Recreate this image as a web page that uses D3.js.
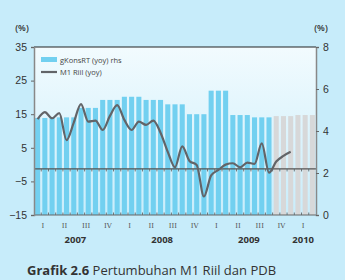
<!DOCTYPE html>
<html>
<head>
<meta charset="utf-8">
<script src="https://cdn.jsdelivr.net/npm/d3@7"></script>
<style>
  body { margin: 0; background: #c7ecfa; }
  svg { display: block; font-family: "Open Sans", "Noto Sans", sans-serif; }
</style>
</head>
<body>
<div id="chart"></div>
<script>
// monthly household consumption growth (rhs), Jan 2007 .. Mar 2010
const konsRT = [
  4.62, 4.62, 4.62, 4.65, 4.65, 4.65, 5.10, 5.10, 5.10, 5.48, 5.48, 5.48,
  5.63, 5.63, 5.63, 5.48, 5.48, 5.48, 5.27, 5.27, 5.27, 4.80, 4.80, 4.80,
  5.92, 5.92, 5.92, 4.76, 4.76, 4.76, 4.65, 4.65, 4.65, 4.71, 4.71, 4.71,
  4.76, 4.76, 4.76
];
// first projected month (grey bars)
const projStart = 33;

// M1 Riil (yoy), Jan 2007 .. Dec 2009
const m1Riil = [
  13.5, 15.6, 13.8, 15.3, 7.3, 12.5, 18.0, 12.8, 13.1, 10.3, 14.5, 17.7,
  13.3, 10.3, 12.8, 11.8, 13.1, 9.5, 3.8, -0.8, 5.4, 1.1, -0.1, -9.5,
  -3.2, -1.6, 0.0, 0.4, -0.8, 0.6, 0.2, 6.3, -2.4, 0.9, 2.6, 3.8
];

const quarterLabels = ["I", "II", "III", "IV", "I", "II", "III", "IV", "I", "II", "III", "IV", "I"];
const years = ["2007", "2008", "2009", "2010"];
const leftTicks = [35, 25, 15, 5, -5, -15];
const rightTicks = [8, 6, 4, 2, 0];
const baseLine = -1.3;

const W = 345, H = 280;
const margin = { top: 47, right: 29, bottom: 65, left: 34 };

const svg = d3.select("#chart").append("svg")
  .attr("width", W)
  .attr("height", H);

const defs = svg.append("defs");
const grad = defs.append("linearGradient")
  .attr("id", "bg")
  .attr("x1", 0).attr("y1", 0).attr("x2", 0).attr("y2", 1);
grad.append("stop").attr("offset", "0%").attr("stop-color", "#f2fbfe");
grad.append("stop").attr("offset", "100%").attr("stop-color", "#c9edfb");

const x = d3.scaleBand()
  .domain(d3.range(konsRT.length))
  .range([margin.left, W - margin.right])
  .paddingInner(0.3)
  .paddingOuter(0.15);

const yL = d3.scaleLinear().domain([-15, 35]).range([H - margin.bottom, margin.top]);
const yR = d3.scaleLinear().domain([0, 8]).range([H - margin.bottom, margin.top]);

// plot background
svg.append("rect")
  .attr("x", margin.left)
  .attr("y", margin.top)
  .attr("width", W - margin.left - margin.right)
  .attr("height", H - margin.top - margin.bottom)
  .attr("fill", "url(#bg)");

// bars
svg.append("g")
  .selectAll("rect")
  .data(konsRT)
  .join("rect")
  .attr("x", (d, i) => x(i))
  .attr("y", d => yR(d))
  .attr("width", x.bandwidth())
  .attr("height", d => yR(0) - yR(d))
  .attr("fill", (d, i) => i >= projStart ? "#d7d8d9" : "#72d0f0");

// month ticks along the middle line and bottom
const step = x.step();
const boundaries = d3.range(konsRT.length + 1).map(i => margin.left + x.paddingOuter() * step - x.paddingInner() * step / 2 + i * step);

svg.append("line")
  .attr("x1", margin.left).attr("x2", W - margin.right)
  .attr("y1", yL(baseLine)).attr("y2", yL(baseLine))
  .attr("stroke", "#555").attr("stroke-width", 1.3);

svg.append("g")
  .selectAll("line")
  .data(boundaries.slice(1, -1))
  .join("line")
  .attr("x1", d => d).attr("x2", d => d)
  .attr("y1", yL(baseLine)).attr("y2", yL(baseLine) + 2.5)
  .attr("stroke", "#555").attr("stroke-width", 0.8);

svg.append("g")
  .selectAll("line")
  .data(boundaries.slice(1, -1))
  .join("line")
  .attr("x1", d => d).attr("x2", d => d)
  .attr("y1", yL(-15)).attr("y2", yL(-15) - 2.5)
  .attr("stroke", "#555").attr("stroke-width", 0.8);

// M1 line
svg.append("path")
  .datum(m1Riil)
  .attr("fill", "none")
  .attr("stroke", "#626468")
  .attr("stroke-width", 2.2)
  .attr("stroke-linejoin", "round")
  .attr("d", d3.line()
    .x((d, i) => x(i) + x.bandwidth() / 2)
    .y(d => yL(d))
    .curve(d3.curveMonotoneX));

// frame
svg.append("line")
  .attr("x1", margin.left).attr("x2", W - margin.right)
  .attr("y1", margin.top).attr("y2", margin.top)
  .attr("stroke", "#222").attr("stroke-width", 1.2);
svg.append("line")
  .attr("x1", margin.left).attr("x2", W - margin.right)
  .attr("y1", yL(-15)).attr("y2", yL(-15))
  .attr("stroke", "#666").attr("stroke-width", 1.2);

// left axis
const leftAxis = svg.append("g")
  .attr("transform", `translate(${margin.left},0)`)
  .call(d3.axisLeft(yL).tickValues(leftTicks).tickSize(3).tickPadding(4));
leftAxis.select(".domain").attr("stroke", "#888").attr("stroke-width", 1.5);
leftAxis.selectAll(".tick line").attr("stroke", "#666");
leftAxis.selectAll("text").attr("fill", "#333").style("font-size", "10.5px");

// right axis
const rightAxis = svg.append("g")
  .attr("transform", `translate(${W - margin.right},0)`)
  .call(d3.axisRight(yR).tickValues(rightTicks).tickSize(3).tickPadding(4));
rightAxis.select(".domain").attr("stroke", "#888").attr("stroke-width", 1.5);
rightAxis.selectAll(".tick line").attr("stroke", "#666");
rightAxis.selectAll("text").attr("fill", "#333").style("font-size", "10.5px");

// unit labels
svg.append("text").attr("x", 22).attr("y", 31).attr("text-anchor", "middle")
  .attr("fill", "#333").style("font-size", "9px").style("font-weight", "600").text("(%)");
svg.append("text").attr("x", 321).attr("y", 31).attr("text-anchor", "middle")
  .attr("fill", "#333").style("font-size", "9px").style("font-weight", "600").text("(%)");

// quarter labels (middle month of each quarter)
svg.append("g")
  .selectAll("text")
  .data(quarterLabels)
  .join("text")
  .attr("x", (d, i) => x(i * 3 + 1) + x.bandwidth() / 2 - 2)
  .attr("y", 228)
  .attr("text-anchor", "middle")
  .attr("fill", "#555")
  .style("font-size", "7px")
  .style("font-family", "'DejaVu Serif', serif")
  .text(d => d);

// year labels
svg.append("g")
  .selectAll("text")
  .data(years)
  .join("text")
  .attr("x", (d, i) => {
    const first = i * 12;
    const last = Math.min(first + 11, konsRT.length - 1);
    return (x(first) + x(last) + x.bandwidth()) / 2 - 2;
  })
  .attr("y", 243)
  .attr("text-anchor", "middle")
  .attr("fill", "#333")
  .style("font-size", "9.5px")
  .style("font-weight", "bold")
  .text(d => d);

// legend
const legend = svg.append("g").attr("transform", "translate(41,57)");
legend.append("rect").attr("x", 0).attr("y", 0).attr("width", 16).attr("height", 5).attr("fill", "#72d0f0");
legend.append("text").attr("x", 19).attr("y", 5.5).attr("fill", "#444").style("font-size", "7.5px").text("gKonsRT (yoy) rhs");
legend.append("line").attr("x1", 0).attr("x2", 16).attr("y1", 15).attr("y2", 15).attr("stroke", "#626468").attr("stroke-width", 2.2);
legend.append("text").attr("x", 19).attr("y", 18).attr("fill", "#444").style("font-size", "7.5px").text("M1 Riil (yoy)");

// title at the bottom edge
const title = svg.append("text").attr("x", 27).attr("y", 275).attr("fill", "#333").style("font-size", "13px");
title.append("tspan").style("font-weight", "bold").text("Grafik 2.6 ");
title.append("tspan").text("Pertumbuhan M1 Riil dan PDB");
</script>
</body>
</html>
